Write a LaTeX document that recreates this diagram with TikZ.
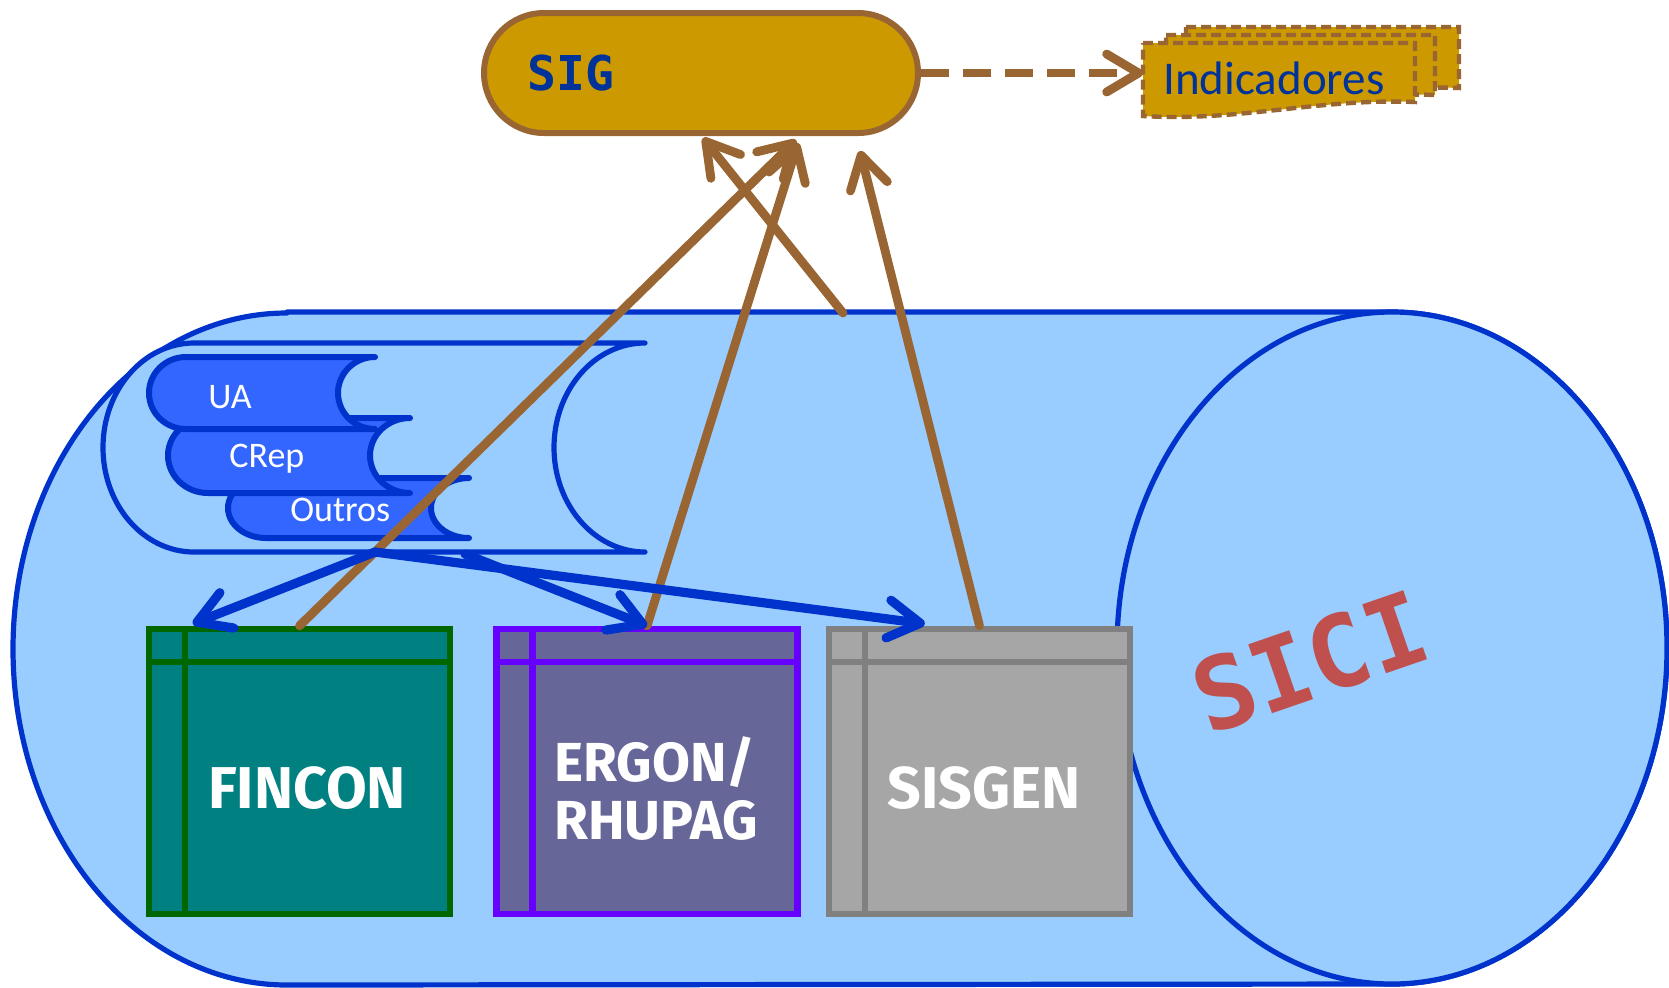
\documentclass[tikz,border=0pt]{standalone}
\usepackage{fontspec}
\setmainfont{Carlito}
\newfontfamily\monofont{DejaVu Sans Mono}
\newfontfamily\boxfont{Fira Sans}
\usepackage{xcolor}
\usepackage{tikz}
\usetikzlibrary{arrows.meta,calc}

\definecolor{sicifill}{HTML}{99CCFF}
\definecolor{siciline}{HTML}{0033CC}
\definecolor{gold}{HTML}{CC9900}
\definecolor{brownline}{HTML}{996633}
\definecolor{sigblue}{HTML}{003399}
\definecolor{bookfill}{HTML}{3366FF}
\definecolor{finconfill}{HTML}{008080}
\definecolor{finconline}{HTML}{006600}
\definecolor{ergonfill}{HTML}{666699}
\definecolor{ergonline}{HTML}{6600FF}
\definecolor{sisgenfill}{HTML}{A6A6A6}
\definecolor{sisgenline}{HTML}{808080}
\definecolor{sicired}{HTML}{C0504D}

% data store outline: left x, right x, top y, bottom y, x radius
\newcommand{\storepath}[5]{(#1,#3) -- (#2,#3)
  arc[start angle=-90, end angle=-270, x radius=#5, y radius={(#4-#3)/2}]
  -- (#1,#4) arc[start angle=90, end angle=270, x radius=#5, y radius={(#4-#3)/2}] -- cycle}
% document outline: left x, right x, top y, bottom y (left)
\newcommand{\docpath}[4]{(#1,#3) -- (#2,#3) -- (#2,{#4-14})
  .. controls ({#2-0.35*(#2-#1)},{#4-18}) and ({#1+0.35*(#2-#1)},{#4+6}) .. (#1,#4) -- cycle}

\tikzset{
  sicibody/.style={fill=sicifill, draw=siciline, line width=2.6pt, line join=round, line cap=round},
  bookbody/.style={fill=bookfill, draw=siciline, line width=3pt, line join=round, line cap=round},
  booktext/.style={anchor=base west, inner sep=0pt, text=white, font=\fontsize{18}{20}\selectfont},
  sigbox/.style={draw=brownline, fill=gold, line width=3pt, rounded corners=30pt,
    minimum width=217pt, minimum height=60pt},
  sigtext/.style={anchor=base west, inner sep=0pt, text=sigblue, font=\monofont\bfseries\fontsize{24}{26}\selectfont},
  docshape/.style={fill=gold, draw=brownline, line width=2.2pt, dash pattern=on 5pt off 2.5pt},
  indtext/.style={anchor=base west, inner sep=0pt, text=sigblue, font=\fontsize{23.5}{25}\selectfont},
  appbox/.style={draw, line width=3.2pt, minimum width=150.5pt, minimum height=142.5pt, inner sep=0pt},
  apptext/.style={inner sep=0pt, text=white, font=\boxfont\bfseries\fontsize{29.5}{29}\selectfont},
  sicitext/.style={rotate=19, inner sep=0pt, text=sicired, font=\monofont\bfseries\fontsize{50}{52}\selectfont},
  tip/.style={-{Straight Barb[length=16pt,width=19pt,round]}},
  flowbrown/.style={tip, draw=brownline, line width=4.4pt, line cap=round},
  flowblue/.style={tip, draw=siciline, line width=4.6pt, line cap=round},
  indarrow/.style={tip, draw=brownline, line width=4.4pt, dash pattern=on 14pt off 7pt}
}

\begin{document}
\begin{tikzpicture}[x=0.5pt, y=-0.5pt]
    \useasboundingbox (0,0) rectangle (1669,987);

    % SICI cylinder
    \filldraw[sicibody] (287,312) -- (1392,312)
        arc[start angle=-90, end angle=90, x radius=275, y radius=336]
        -- (287,985) arc[start angle=90, end angle=270, x radius=274, y radius=336] -- cycle;
    \filldraw[sicibody] (1392,648) ellipse [x radius=275, y radius=336];
    \node[sicitext] (sici) at (1310,662) {SICI};

    % data store with the three books
    \filldraw[sicibody] \storepath{194}{645}{343}{552}{91};
    \filldraw[bookbody] \storepath{266}{469}{478}{538}{38};
    \node[booktext] (outros) at (290,521) {Outros};
    \filldraw[bookbody] \storepath{208}{410}{418}{493}{40};
    \node[booktext] (crep) at (229,467) {CRep};
    \filldraw[bookbody] \storepath{186}{375}{357}{429}{37};
    \node[booktext] (ua) at (208,408) {UA};

    % applications
    \node[appbox, fill=finconfill, draw=finconline] (fincon) at (299.5,771.5) {};
    \node[appbox, fill=ergonfill, draw=ergonline] (ergon) at (647,771.5) {};
    \node[appbox, fill=sisgenfill, draw=sisgenline] (sisgen) at (979.5,771.5) {};
    \foreach \b/\c in {fincon/finconline, ergon/ergonline, sisgen/sisgenline} {
        \draw[\c, line width=3.2pt] ($(\b.north west)+(39,0)$) -- ($(\b.south west)+(39,0)$);
        \draw[\c, line width=3.2pt] ($(\b.north west)+(0,36)$) -- ($(\b.north east)+(0,36)$);
    }
    \node[apptext, anchor=base] at (307,808) {FINCON};
    \node[apptext, anchor=west, align=left, font=\boxfont\bfseries\fontsize{27.5}{29}\selectfont]
        at (554,789) {ERGON/\\RHUPAG};
    \node[apptext, anchor=base] at (984,808) {SISGEN};

    % SIG and indicators
    \node[sigbox] (sig) at (701,73) {};
    \node[sigtext] (sigl) at (527,90) {SIG};

    \filldraw[docshape] \docpath{1186}{1459}{27}{102};
    \filldraw[docshape] \docpath{1166}{1435}{35}{109};
    \filldraw[docshape] \docpath{1143}{1415}{43}{116};
    \node[indtext] (ind) at (1163,94) {Indicadores};
    \coordinate (indin) at (1143,73);
    \draw[indarrow] (sig.east) -- (indin);

    % brown arrows up to SIG
    \coordinate (sigA) at ($(sig.south)+(2,2)$);
    \coordinate (sigB) at ($(sig.south)+(95,4)$);
    \coordinate (sigC) at ($(sig.south)+(97,7)$);
    \coordinate (sigD) at ($(sig.south)+(159,15)$);
    \coordinate (sicitop) at (843,313);
    \draw[flowbrown] (fincon.north) -- (sigB);
    \draw[flowbrown] (ergon.north) -- (sigC);
    \draw[flowbrown] (sicitop) -- (sigA);
    \draw[flowbrown] (sisgen.north) -- (sigD);

    % blue arrows out of the data store
    \coordinate (dsA) at (375,552);
    \coordinate (dsB) at (465,554);
    \draw[flowblue] (dsA) -- ($(fincon.north west)+(47,-2)$);
    \draw[flowblue] (dsB) -- (ergon.north);
    \draw[flowblue] (dsA) -- ($(sisgen.north west)+(99,-2)$);
\end{tikzpicture}
\end{document}
